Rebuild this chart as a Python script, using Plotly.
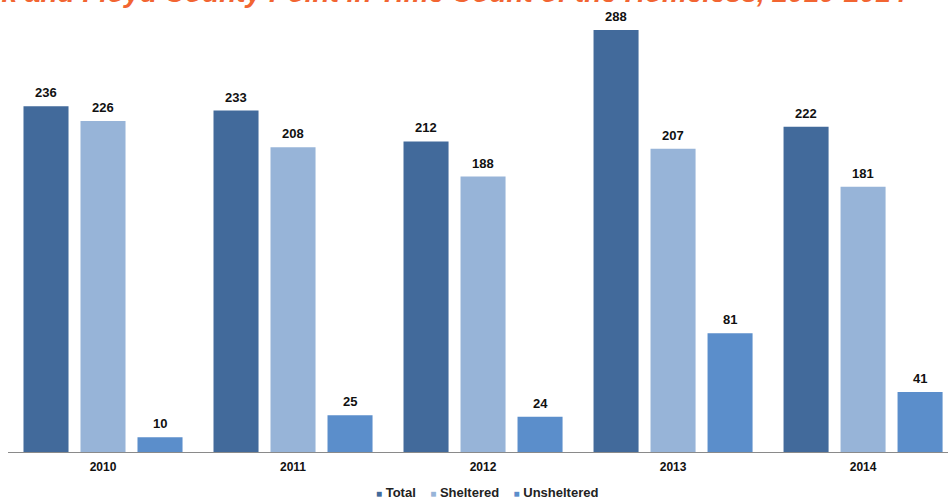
import plotly.graph_objects as go

years = ["2010", "2011", "2012", "2013", "2014"]
total = [236, 233, 212, 288, 222]
sheltered = [226, 208, 188, 207, 181]
unsheltered = [10, 25, 24, 81, 41]

title_text = "Clark and Floyd County Point in Time Count of the Homeless, 2010-2014"

series = [("Total", total, "#426A9B"),
          ("Sheltered", sheltered, "#97B4D8"),
          ("Unsheltered", unsheltered, "#5B8ECB")]

FONT = "Liberation Sans, Arial, sans-serif"

fig = go.Figure()
for name, vals, col in series:
    fig.add_trace(go.Bar(
        x=years, y=vals, name=name,
        marker=dict(color=col, line=dict(width=0)),
        showlegend=False,
    ))

annotations = []
# value labels above bars
shifts = [-57, 0, 57]
for (name, vals, col), dx in zip(series, shifts):
    for i, v in enumerate(vals):
        annotations.append(dict(
            x=i, y=v, xref="x", yref="y", text="<b>%d</b>" % v,
            showarrow=False, xshift=dx, yshift=4, yanchor="bottom",
            font=dict(family=FONT, size=13, color="#111111"),
        ))

# title (partly cut at top edge as in the reference)
annotations.append(dict(
    text="<b><i>" + title_text + "</i></b>", xref="paper", yref="paper",
    x=0.958, xanchor="right", y=0.978, yanchor="bottom", showarrow=False,
    font=dict(family=FONT, size=28, color="#F26532"),
))

# legend
gap = "&nbsp;" * 4
leg = gap.join(
    "<span style='color:%s;font-size:10px'>■</span> <b>%s</b>" % (col, name)
    for name, vals, col in series)
annotations.append(dict(
    text=leg, xref="paper", yref="paper", x=0.5096, xanchor="center",
    y=-0.0885, yanchor="middle", showarrow=False,
    font=dict(family=FONT, size=13, color="#222222"),
))

fig.update_layout(
    width=948, height=500,
    margin=dict(l=8, r=0, t=0, b=48),
    paper_bgcolor="white", plot_bgcolor="white",
    barmode="group", bargap=0.1, bargroupgap=0.21,
    showlegend=False,
    xaxis=dict(type="category", range=[-0.5, 4.447], showline=True, linecolor="#8a8a8a",
               linewidth=1, ticks="", showgrid=False, ticklabelstandoff=4,
               tickvals=years, ticktext=["<b>%s</b>" % y for y in years],
               tickfont=dict(family=FONT, size=12, color="#111111")),
    yaxis=dict(range=[0, 308.5], visible=False, showgrid=False),
    annotations=annotations,
)

fig.write_html("out.html", config={"displayModeBar": False},
               post_script="document.body.style.margin='0';")
